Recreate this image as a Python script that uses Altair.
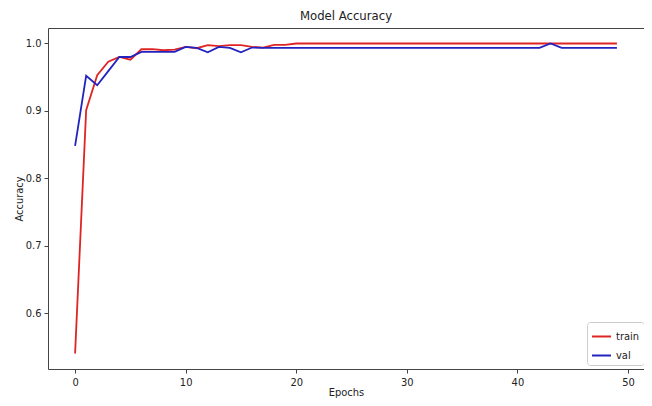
import altair as alt
import pandas as pd

epochs = list(range(50))
train_acc = [0.540, 0.901, 0.953, 0.973, 0.980, 0.976, 0.9915, 0.9915, 0.990, 0.991,
             0.995, 0.993, 0.9975, 0.996, 0.9975, 0.9975, 0.995, 0.994, 0.998, 0.998] + [1.0] * 30
val_acc = [0.848, 0.952, 0.938, 0.959, 0.980, 0.980, 0.9875, 0.9875, 0.9875, 0.9875,
           0.995, 0.9935, 0.987, 0.995, 0.9935, 0.987, 0.994] + [0.9935] * 26 + [1.0] + [0.9935] * 6
series_names = ["train", "val"]
series_colors = ["#e02424", "#2323c0"]
x_ticks = [0, 10, 20, 30, 40, 50]
y_ticks = [0.6, 0.7, 0.8, 0.9, 1.0]

df = pd.DataFrame({
    "epoch": epochs + epochs,
    "acc": train_acc + val_acc,
    "series": [series_names[0]] * len(train_acc) + [series_names[1]] * len(val_acc),
})

FONT = "Liberation Sans Narrow, DejaVu Sans Condensed, DejaVu Sans, sans-serif"

chart = alt.Chart(df, title="Model Accuracy").mark_line(strokeWidth=1.8).encode(
    x=alt.X("epoch:Q",
            scale=alt.Scale(domain=[-2.45, 51.45], nice=False, zero=False),
            axis=alt.Axis(values=x_ticks, title="Epochs", format="d",
                          titleY=26, titleBaseline="alphabetic")),
    y=alt.Y("acc:Q",
            scale=alt.Scale(domain=[0.517, 1.023], nice=False, zero=False),
            axis=alt.Axis(values=y_ticks, title="Accuracy", format=".1f")),
    color=alt.Color("series:N",
                    scale=alt.Scale(domain=series_names, range=series_colors),
                    legend=alt.Legend(title=None, orient="none", legendX=539, legendY=294,
                                      symbolType="stroke", symbolSize=360, symbolStrokeWidth=2,
                                      labelFontSize=11, labelFont=FONT, labelColor="#222",
                                      padding=4, rowPadding=3,
                                      strokeColor="#cccccc", fillColor="white", cornerRadius=3)),
    order=alt.Order("series:N"),
).properties(
    width=596, height=341,
    autosize=alt.AutoSizeParams(type="none"),
    padding={"left": 40, "top": 20, "right": 0, "bottom": 29},
).configure_view(
    stroke="#444", strokeWidth=1
).configure_axis(
    grid=False, domain=False, tickColor="#444", tickSize=4,
    labelFont=FONT, labelFontSize=11, labelColor="#222", labelPadding=3,
    titleFont=FONT, titleFontSize=11, titleFontWeight="normal", titleColor="#222",
).configure_axisY(
    titlePadding=1,
).configure_title(
    font=FONT, fontSize=13, fontWeight="normal", color="#222", anchor="middle", offset=5,
)

chart.save("out.html", embed_options={"renderer": "svg", "actions": False})
